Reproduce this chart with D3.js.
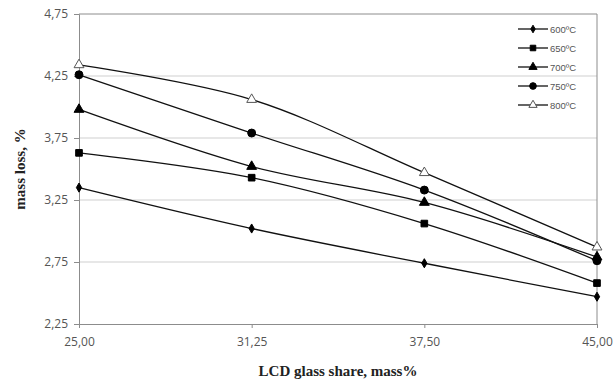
<!DOCTYPE html>
<html>
<head>
<meta charset="utf-8">
<script src="https://cdn.jsdelivr.net/npm/d3@7"></script>
<style>
  body { margin: 0; background: #fff; }
  svg { display: block; }
</style>
</head>
<body>
<div id="chart"></div>
<script>
// categories on the x axis (equally spaced, Excel line chart)
var categories = ["25,00", "31,25", "37,50", "45,00"];
var seriesNames = ["600ºC", "650ºC", "700ºC", "750ºC", "800ºC"];
var s600 = [3.35, 3.02, 2.74, 2.47];
var s650 = [3.63, 3.43, 3.06, 2.58];
var s700 = [3.98, 3.52, 3.23, 2.79];
var s750 = [4.26, 3.79, 3.33, 2.76];
var s800 = [4.34, 4.06, 3.47, 2.87];
var yTicks = [2.25, 2.75, 3.25, 3.75, 4.25, 4.75];

var series = [s600, s650, s700, s750, s800];
var symbols = [d3.symbolDiamond, d3.symbolSquare, d3.symbolTriangle, d3.symbolCircle, d3.symbolTriangle];
var symSizes = [24, 44, 42, 50, 42];

var W = 615, H = 381;
var plotL = 79, plotR = 597, plotT = 14, plotB = 324;

var svg = d3.select("#chart").append("svg")
    .attr("width", W).attr("height", H);

var x = d3.scalePoint().domain(categories).range([plotL, plotR]);
var y = d3.scaleLinear().domain([2.25, 4.75]).range([plotB, plotT]);

var fmt = function(v) { return d3.format(".2f")(v).replace(".", ","); };

// gridlines
svg.append("g").selectAll("line").data(yTicks.slice(1, -1)).enter().append("line")
    .attr("x1", plotL).attr("x2", plotR)
    .attr("y1", d => y(d)).attr("y2", d => y(d))
    .attr("stroke", "#cfcfcf").attr("stroke-width", 1.2);

// plot border top/right
svg.append("line").attr("x1", plotL).attr("x2", plotR).attr("y1", y(4.75)).attr("y2", y(4.75))
    .attr("stroke", "#8c8c8c").attr("stroke-width", 1);
svg.append("line").attr("x1", plotR).attr("x2", plotR).attr("y1", plotT).attr("y2", plotB)
    .attr("stroke", "#8c8c8c").attr("stroke-width", 1);

// axes
var yAxis = d3.axisLeft(y).tickValues(yTicks).tickFormat(fmt).tickSize(5).tickPadding(6);
var gy = svg.append("g").attr("transform", "translate(" + plotL + ",0)").call(yAxis);
var xAxis = d3.axisBottom(x).tickSize(4).tickPadding(9);
var gx = svg.append("g").attr("transform", "translate(0," + plotB + ")").call(xAxis);

[gy, gx].forEach(function(g) {
  g.select(".domain").attr("stroke", "#8c8c8c");
  g.selectAll(".tick line").attr("stroke", "#8c8c8c");
  g.selectAll("text").attr("fill", "#555").style("font-family", "'Open Sans', sans-serif").style("font-size", "12px");
});

// lines
var line = d3.line()
    .x((d, i) => x(categories[i]))
    .y(d => y(d))
    .curve(d3.curveCatmullRom.alpha(0.5));

series.forEach(function(s, k) {
  svg.append("path").datum(s)
      .attr("d", line)
      .attr("fill", "none")
      .attr("stroke", "#111")
      .attr("stroke-width", 1.3);
});

// markers
series.forEach(function(s, k) {
  svg.append("g").selectAll("path").data(s).enter().append("path")
      .attr("transform", (d, i) => "translate(" + x(categories[i]) + "," + y(d) + ")")
      .attr("d", d3.symbol().type(symbols[k]).size(symSizes[k]))
      .attr("fill", k == 4 ? "#fff" : "#000")
      .attr("stroke", k == 4 ? "#555" : "#000")
      .attr("stroke-width", 1);
});

// legend
var legY = [29, 48, 67, 86, 105];
var leg = svg.append("g");
seriesNames.forEach(function(n, k) {
  leg.append("line").attr("x1", 518).attr("x2", 548).attr("y1", legY[k]).attr("y2", legY[k])
      .attr("stroke", "#111").attr("stroke-width", 1.3);
  leg.append("path").attr("transform", "translate(533," + legY[k] + ")")
      .attr("d", d3.symbol().type(symbols[k]).size(symSizes[k] * 0.7))
      .attr("fill", k == 4 ? "#fff" : "#000")
      .attr("stroke", k == 4 ? "#555" : "#000");
  leg.append("text").attr("x", 550).attr("y", legY[k] + 3.5)
      .text(n)
      .attr("fill", "#555")
      .style("font-family", "'Liberation Sans', Arial, sans-serif")
      .style("font-size", "9.5px");
});

// axis titles
svg.append("text")
    .attr("transform", "translate(25," + ((plotT + plotB) / 2) + ") rotate(-90)")
    .attr("text-anchor", "middle")
    .style("font-family", "'Liberation Serif', 'Times New Roman', serif")
    .style("font-weight", "bold").style("font-size", "15px")
    .attr("fill", "#222")
    .text("mass loss, %");

svg.append("text")
    .attr("x", (plotL + plotR) / 2).attr("y", 376)
    .attr("text-anchor", "middle")
    .style("font-family", "'Liberation Serif', 'Times New Roman', serif")
    .style("font-weight", "bold").style("font-size", "15px")
    .attr("fill", "#222")
    .text("LCD glass share, mass%");
</script>
</body>
</html>
